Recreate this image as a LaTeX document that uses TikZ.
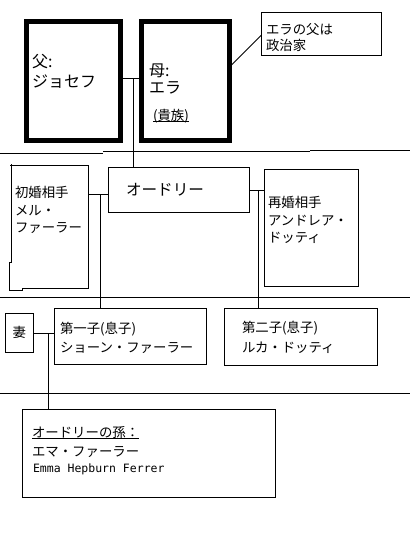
\documentclass[tikz,border=0pt]{standalone}
\usepackage{fontspec}
\setmainfont{Noto Sans CJK JP}
\newfontfamily\monofont{DejaVu Sans Mono}
\tikzset{
  box/.style={draw, line width=1pt, inner sep=0pt, outer sep=0pt, anchor=north west},
  thickbox/.style={box, line width=5pt},
  txt/.style={anchor=base west, inner sep=0pt, outer sep=0pt, font=\fontsize{13.4}{16}\selectfont},
  bigtxt/.style={txt, font=\fontsize{16}{19}\selectfont},
  monotxt/.style={txt, font=\monofont\fontsize{11.5}{14}\selectfont},
  conn/.style={line width=1pt},
}
\begin{document}
\begin{tikzpicture}[x=1pt, y=-1pt]
\useasboundingbox (0,0) rectangle (410,559);

% separator lines
\draw[conn] (0,153.3) -- (103,153.3);
\draw[conn] (103,151.7) -- (310,151.7);
\draw[conn] (310,150.7) -- (410,150.7);
\draw[conn] (0,297.5) -- (410,297.5);
\draw[conn] (0,393.5) -- (410,393.5);

% boxes
\node[thickbox, minimum width=93.5pt, minimum height=119pt] (fa) at (26.5,21.5) {};
\node[thickbox, minimum width=88pt, minimum height=119pt] (mo) at (141.5,21.5) {};
\node[box, minimum width=120pt, minimum height=43.5pt] (note) at (261.5,12.5) {};
\node[box, draw=none, minimum width=78pt, minimum height=122.5pt] (mel) at (10,165.5) {};
\draw[conn] (mel.north west) -- (mel.north east) -- (mel.south east) -- (22.7,288) -- (22.7,290.7) -- (9,290.7) -- (9,262) -- (11.5,262) -- (11.5,164);
\node[box, minimum width=140.5pt, minimum height=44.5pt] (au) at (108.5,167.5) {};
\node[box, minimum width=93.5pt, minimum height=116.5pt] (an2) at (264.5,169.5) {};
\node[box, minimum width=27.5pt, minimum height=38.5pt, font=\fontsize{13.4}{16}\selectfont] (wife) at (5.5,313.5) {妻};
\node[box, minimum width=152pt, minimum height=55.5pt] (c1) at (54.5,308.5) {};
\node[box, minimum width=153pt, minimum height=57pt] (c2) at (224.5,308) {};
\node[box, minimum width=253.5pt, minimum height=88pt] (gc) at (22,409) {};

% texts
\node[bigtxt] (t1) at (32,68) {父:};
\node[bigtxt] (t2) at (32,87.5) {ジョセフ};
\node[bigtxt] (t3) at (149,77) {母:};
\node[bigtxt] (t4) at (149,94) {エラ};
\node[txt] (t5) at (153,120.5) {(貴族)};
\draw[conn] ([yshift=-1.5pt]t5.base west) -- ([yshift=-1.5pt]t5.base east);
\node[txt] (t6) at (266,34.5) {エラの父は};
\node[txt] (t7) at (266,51) {政治家};
\node[txt] (t8) at (15,197.5) {初婚相手};
\node[txt] (t9) at (15,215) {メル・};
\node[txt] (t10) at (15,232) {ファーラー};
\node[txt, font=\fontsize{15.6}{18}\selectfont] (t11) at (126,195.4) {オードリー};
\node[txt] (t12) at (268,207.5) {再婚相手};
\node[txt] (t13) at (268,225) {アンドレア・};
\node[txt] (t14) at (268,242.5) {ドッティ};
\node[txt] (t15) at (60,333) {第一子(息子)};
\node[txt] (t16) at (60,352) {ショーン・ファーラー};
\node[txt] (t17) at (242,332.5) {第二子(息子)};
\node[txt] (t18) at (242,352) {ルカ・ドッティ};
\node[txt] (t19) at (32,437) {オードリーの孫：};
\draw[conn] ([yshift=-1.5pt]t19.base west) -- ([yshift=-1.5pt]t19.base east);
\node[txt] (t20) at (32,456) {エマ・ファーラー};
\node[monotxt] (t21) at (33,472.5) {Emma Hepburn Ferrer};

% connectors
\coordinate (j1) at (133.5,79);
\draw[conn] (fa.east |- j1) -- (mo.west |- j1);
\draw[conn] (j1) -- (j1 |- au.north);
\coordinate (j2) at (100,194.5);
\draw[conn] (mel.east |- j2) -- (au.west |- j2);
\draw[conn] (j2) -- (j2 |- c1.north);
\coordinate (j3) at (258,190.5);
\draw[conn] (au.east |- j3) -- (an2.west |- j3);
\draw[conn] (j3) -- (j3 |- c2.north);
\coordinate (j4) at (48,333);
\draw[conn] (wife.east |- j4) -- (c1.west |- j4);
\draw[conn] (j4) -- (j4 |- gc.north);
\coordinate (d1) at (0,67);
\coordinate (d2) at (0,35);
\draw[conn] (mo.east |- d1) -- (note.west |- d2);
\end{tikzpicture}
\end{document}
